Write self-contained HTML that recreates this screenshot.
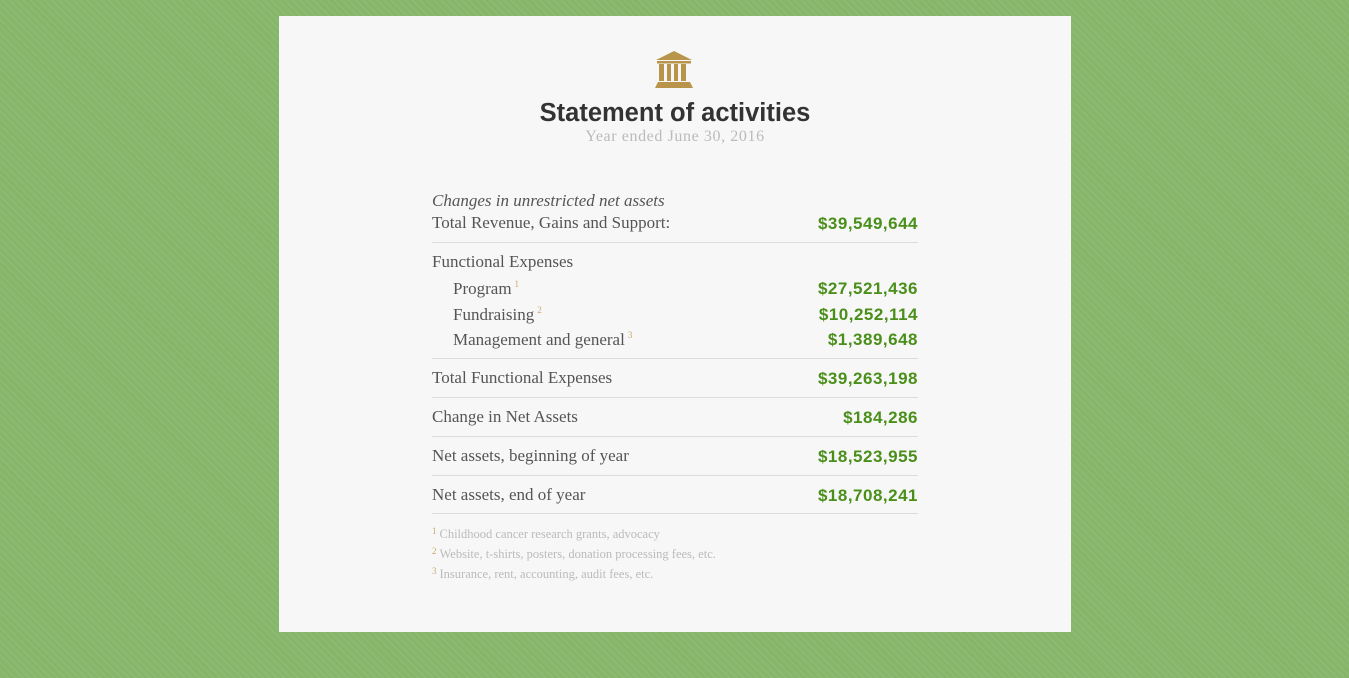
<!DOCTYPE html>
<html><head><meta charset="utf-8">
<style>
html,body{margin:0;padding:0;}
body{width:1349px;height:678px;background:#86b66a;position:relative;overflow:hidden;
background-image:repeating-linear-gradient(45deg,rgba(255,255,255,0.05) 0 2px,transparent 2px 5px);}
#card{position:absolute;left:279px;top:16px;width:792px;height:616px;background:#f7f7f7;}
.t{position:absolute;white-space:nowrap;}
.lbl{font-family:"Liberation Serif",serif;font-size:17px;color:#555;left:153px;line-height:20px;}
.ind{left:174px;}
.val{font-family:"Liberation Sans",sans-serif;font-weight:bold;font-size:17px;letter-spacing:0.5px;color:#4a8f1a;right:153px;line-height:20px;}
.rule{position:absolute;left:153px;width:486px;height:1px;background:#dcdcdc;}
sup{font-size:9px;color:#c9a86a;vertical-align:7px;margin-left:3px;}
.fn{font-family:"Liberation Serif",serif;font-size:12.5px;color:#bbb;left:153px;line-height:14px;}
.fn sup{margin-left:0;margin-right:3px;vertical-align:4px;}
</style></head><body>
<div id="card">
<svg class="t" style="left:376px;top:34px" width="40" height="40">
<polygon points="1,10 19,1 37,10" fill="#b8954a"/>
<rect x="2" y="11" width="34" height="2.5" fill="#b8954a"/>
<rect x="4" y="14" width="5" height="17" fill="#b8954a"/>
<rect x="12" y="14" width="4" height="17" fill="#b8954a"/>
<rect x="19" y="14" width="4" height="17" fill="#b8954a"/>
<rect x="26" y="14" width="5" height="17" fill="#b8954a"/>
<polygon points="3,32 35,32 38,38 0,38" fill="#b8954a"/>
</svg>
<div class="t" style="left:0;width:792px;text-align:center;top:83px;font-family:'Liberation Sans',sans-serif;font-weight:bold;font-size:25.5px;color:#333;">Statement of activities</div>
<div class="t" style="left:0;width:792px;text-align:center;top:112px;font-family:'Liberation Serif',serif;font-size:16px;letter-spacing:0.6px;color:#bbb;">Year ended June 30, 2016</div>

<div class="t lbl" style="top:175px;font-style:italic;">Changes in unrestricted net assets</div>
<div class="t lbl" style="top:197px;">Total Revenue, Gains and Support:</div>
<div class="t val" style="top:198px;">$39,549,644</div>
<div class="rule" style="top:226px;"></div>

<div class="t lbl" style="top:236px;">Functional Expenses</div>
<div class="t lbl ind" style="top:258px;">Program<sup>1</sup></div>
<div class="t val" style="top:263px;">$27,521,436</div>
<div class="t lbl ind" style="top:284px;">Fundraising<sup>2</sup></div>
<div class="t val" style="top:289px;">$10,252,114</div>
<div class="t lbl ind" style="top:309px;">Management and general<sup>3</sup></div>
<div class="t val" style="top:314px;">$1,389,648</div>
<div class="rule" style="top:342px;"></div>

<div class="t lbl" style="top:352px;">Total Functional Expenses</div>
<div class="t val" style="top:353px;">$39,263,198</div>
<div class="rule" style="top:381px;"></div>

<div class="t lbl" style="top:391px;">Change in Net Assets</div>
<div class="t val" style="top:392px;">$184,286</div>
<div class="rule" style="top:420px;"></div>

<div class="t lbl" style="top:430px;">Net assets, beginning of year</div>
<div class="t val" style="top:431px;">$18,523,955</div>
<div class="rule" style="top:459px;"></div>

<div class="t lbl" style="top:469px;">Net assets, end of year</div>
<div class="t val" style="top:470px;">$18,708,241</div>
<div class="rule" style="top:497px;"></div>

<div class="t fn" style="top:508px;"><sup>1</sup>Childhood cancer research grants, advocacy</div>
<div class="t fn" style="top:528px;"><sup>2</sup>Website, t-shirts, posters, donation processing fees, etc.</div>
<div class="t fn" style="top:548px;"><sup>3</sup>Insurance, rent, accounting, audit fees, etc.</div>
</div>
</body></html>
